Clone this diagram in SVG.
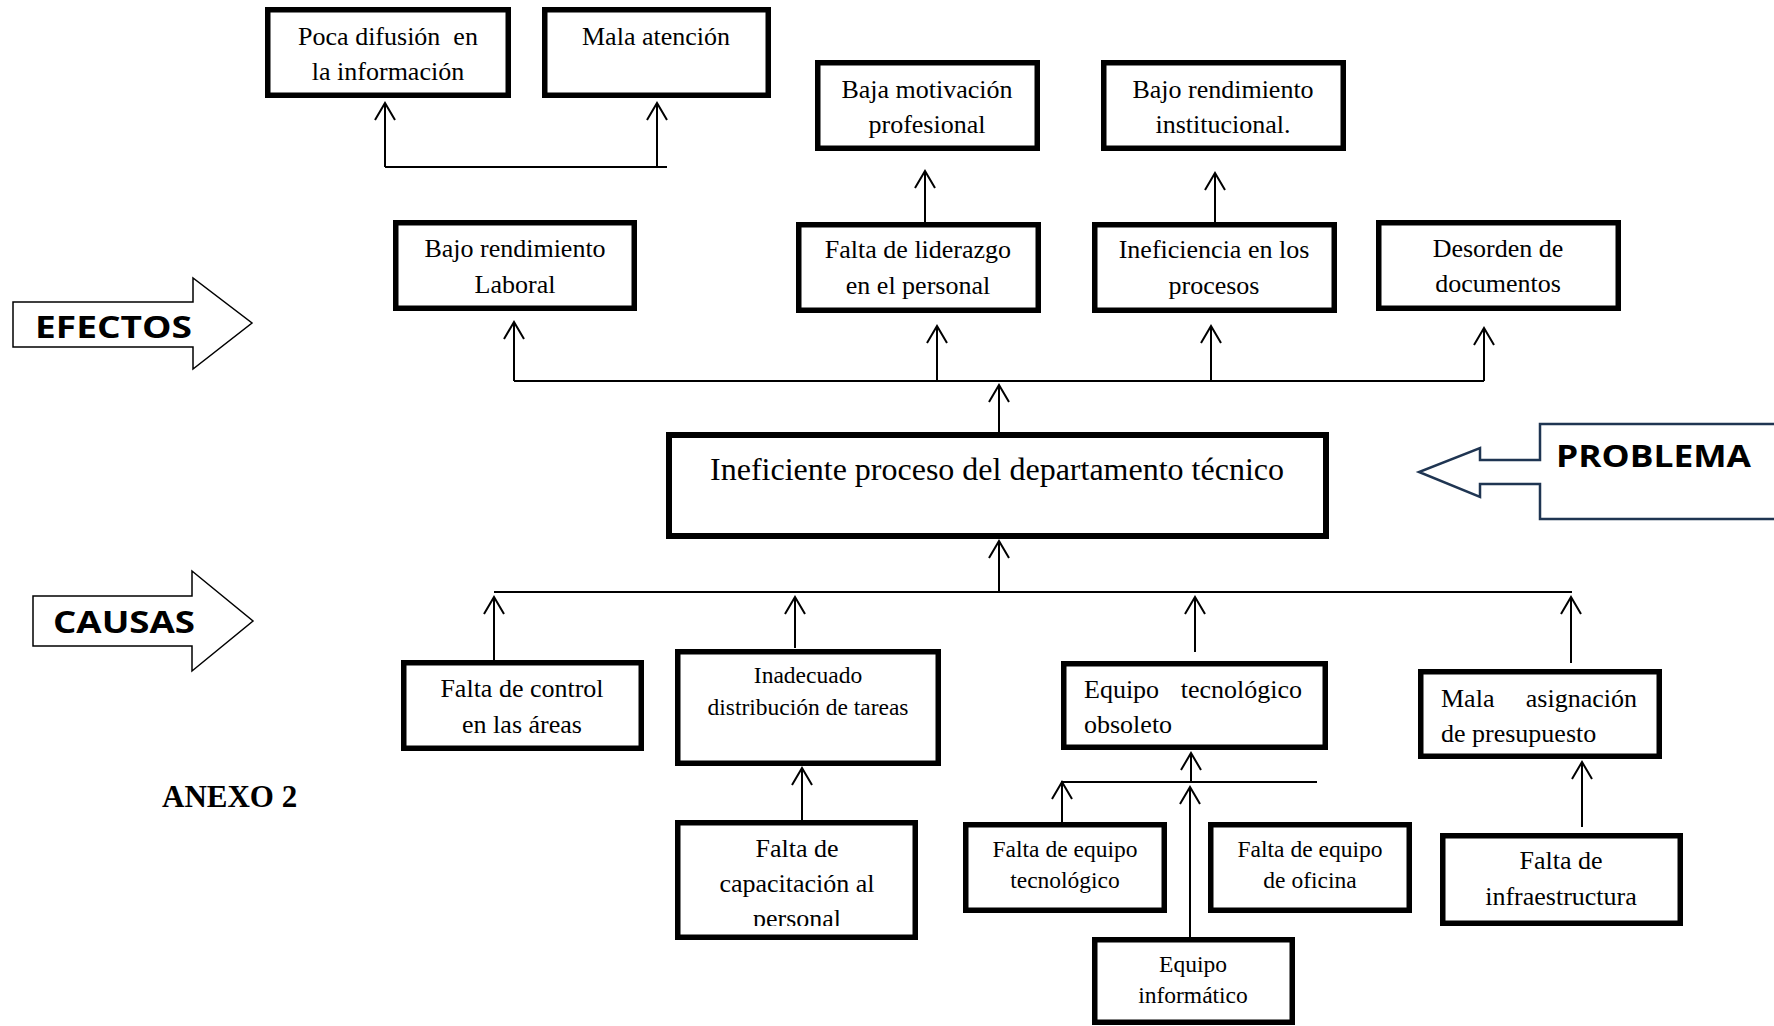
<svg xmlns="http://www.w3.org/2000/svg" width="1774" height="1026" viewBox="0 0 1774 1026">
<style>
.box{fill:#fff;stroke:#000;stroke-width:5.5}
.mainbox{fill:#fff;stroke:#000;stroke-width:6}
.t{font-family:"Liberation Serif","Times New Roman",serif;font-size:26px;fill:#000;text-anchor:middle}
.ts{font-family:"Liberation Serif","Times New Roman",serif;font-size:23.5px;fill:#000;text-anchor:middle}
.tl{font-family:"Liberation Serif","Times New Roman",serif;font-size:26px;fill:#000}
.big{font-family:"Open Sans","DejaVu Sans",sans-serif;font-weight:bold;font-size:30px;fill:#000}
.con line{stroke:#000;stroke-width:2;fill:none}
.bigarrow{fill:#fff;stroke:#000;stroke-width:1.5}
</style>
<defs>
<marker id="ah" markerUnits="userSpaceOnUse" viewBox="-20 -12 24 24" refX="0" refY="0" markerWidth="24" markerHeight="24" orient="auto" overflow="visible">
<path d="M-17,-10 L0,0 L-17,10" fill="none" stroke="#000" stroke-width="2"/>
</marker>
<clipPath id="clipCap"><rect x="678" y="823" width="237" height="103"/></clipPath>
</defs>
<rect x="0" y="0" width="1774" height="1026" fill="#fff"/>

<g id="connectors" class="con">
<line x1="385" y1="167" x2="667" y2="167"/>
<line x1="385" y1="167" x2="385" y2="103" marker-end="url(#ah)"/>
<line x1="657" y1="167" x2="657" y2="103" marker-end="url(#ah)"/>
<line x1="514" y1="381" x2="1484" y2="381"/>
<line x1="514" y1="381" x2="514" y2="322" marker-end="url(#ah)"/>
<line x1="937" y1="381" x2="937" y2="326" marker-end="url(#ah)"/>
<line x1="1211" y1="381" x2="1211" y2="326" marker-end="url(#ah)"/>
<line x1="1484" y1="381" x2="1484" y2="328" marker-end="url(#ah)"/>
<line x1="925" y1="222" x2="925" y2="171" marker-end="url(#ah)"/>
<line x1="1215" y1="227" x2="1215" y2="173" marker-end="url(#ah)"/>
<line x1="999" y1="432" x2="999" y2="385" marker-end="url(#ah)"/>
<line x1="494" y1="592" x2="1572" y2="592"/>
<line x1="999" y1="592" x2="999" y2="541" marker-end="url(#ah)"/>
<line x1="494" y1="666" x2="494" y2="597" marker-end="url(#ah)"/>
<line x1="795" y1="648" x2="795" y2="597" marker-end="url(#ah)"/>
<line x1="1195" y1="652" x2="1195" y2="597" marker-end="url(#ah)"/>
<line x1="1571" y1="663" x2="1571" y2="597" marker-end="url(#ah)"/>
<line x1="802" y1="820" x2="802" y2="768" marker-end="url(#ah)"/>
<line x1="1061" y1="782" x2="1317" y2="782"/>
<line x1="1062" y1="822" x2="1062" y2="782" marker-end="url(#ah)"/>
<line x1="1191" y1="782" x2="1191" y2="753" marker-end="url(#ah)"/>
<line x1="1190" y1="937" x2="1190" y2="787" marker-end="url(#ah)"/>
<line x1="1582" y1="827" x2="1582" y2="762" marker-end="url(#ah)"/>
</g>

<g id="efectos-label">
<polygon class="bigarrow" points="13,302 193,302 193,278 252,323 193,369 193,347 13,347"/>
<text class="big" x="35" y="338" textLength="157" lengthAdjust="spacingAndGlyphs">EFECTOS</text>
</g>
<g id="causas-label">
<polygon class="bigarrow" points="33,596 192,596 192,571 253,621 192,671 192,646 33,646"/>
<text class="big" x="53" y="633" textLength="142" lengthAdjust="spacingAndGlyphs">CAUSAS</text>
</g>
<g id="problema-label">
<path d="M1790,424 L1540,424 L1540,460 L1480,460 L1480,448 L1419,472 L1480,497 L1480,484 L1540,484 L1540,519 L1790,519" fill="#fff" stroke="#1f3552" stroke-width="2.5"/>
<text class="big" x="1556" y="467" textLength="195" lengthAdjust="spacingAndGlyphs">PROBLEMA</text>
</g>

<g id="poca-difusion">
<rect class="box" x="267.75" y="9.75" width="240.5" height="85.5"/>
<text class="t" x="388" y="45" xml:space="preserve">Poca difusión  en</text>
<text class="t" x="388" y="80">la información</text>
</g>
<g id="mala-atencion">
<rect class="box" x="544.75" y="9.75" width="223.5" height="85.5"/>
<text class="t" x="656" y="45">Mala atención</text>
</g>
<g id="bajo-rendimiento-laboral">
<rect class="box" x="395.75" y="222.75" width="238.5" height="85.5"/>
<text class="t" x="515" y="257">Bajo rendimiento</text>
<text class="t" x="515" y="293">Laboral</text>
</g>
<g id="baja-motivacion">
<rect class="box" x="817.75" y="62.75" width="219.5" height="85.5"/>
<text class="t" x="927" y="98">Baja motivación</text>
<text class="t" x="927" y="133">profesional</text>
</g>
<g id="bajo-rendimiento-institucional">
<rect class="box" x="1103.75" y="62.75" width="239.5" height="85.5"/>
<text class="t" x="1223" y="98">Bajo rendimiento</text>
<text class="t" x="1223" y="133">institucional.</text>
</g>
<g id="falta-liderazgo">
<rect class="box" x="798.75" y="224.75" width="239.5" height="85.5"/>
<text class="t" x="918" y="258">Falta de liderazgo</text>
<text class="t" x="918" y="294">en el personal</text>
</g>
<g id="ineficiencia-procesos">
<rect class="box" x="1094.75" y="224.75" width="239.5" height="85.5"/>
<text class="t" x="1214" y="258">Ineficiencia en los</text>
<text class="t" x="1214" y="294">procesos</text>
</g>
<g id="desorden-documentos">
<rect class="box" x="1378.75" y="222.75" width="239.5" height="85.5"/>
<text class="t" x="1498" y="257">Desorden de</text>
<text class="t" x="1498" y="292">documentos</text>
</g>

<g id="problema-central">
<rect class="mainbox" x="669" y="435" width="657" height="101"/>
<text class="t" x="997" y="480" style="font-size:32px">Ineficiente proceso del departamento técnico</text>
</g>

<g id="falta-control">
<rect class="box" x="403.75" y="662.75" width="237.5" height="85.5"/>
<text class="t" x="522" y="697">Falta de control</text>
<text class="t" x="522" y="733">en las áreas</text>
</g>
<g id="inadecuado-distribucion">
<rect class="box" x="677.75" y="651.75" width="260.5" height="111.5"/>
<text class="ts" x="808" y="683">Inadecuado</text>
<text class="ts" x="808" y="715">distribución de tareas</text>
</g>
<g id="equipo-obsoleto">
<rect class="box" x="1063.75" y="663.75" width="261.5" height="83.5"/>
<text class="tl" x="1084" y="698">Equipo</text>
<text class="tl" x="1302" y="698" text-anchor="end">tecnológico</text>
<text class="tl" x="1084" y="733">obsoleto</text>
</g>
<g id="mala-asignacion">
<rect class="box" x="1420.75" y="671.75" width="238.5" height="84.5"/>
<text class="tl" x="1441" y="707">Mala</text>
<text class="tl" x="1637" y="707" text-anchor="end">asignación</text>
<text class="tl" x="1441" y="742">de presupuesto</text>
</g>
<g id="falta-capacitacion">
<rect class="box" x="677.75" y="822.75" width="237.5" height="114.5"/>
<g clip-path="url(#clipCap)">
<text class="t" x="797" y="857">Falta de</text>
<text class="t" x="797" y="892">capacitación al</text>
<text class="t" x="797" y="927">personal</text>
</g>
</g>
<g id="falta-equipo-tecnologico">
<rect class="box" x="965.75" y="824.75" width="198.5" height="85.5"/>
<text class="ts" x="1065" y="857">Falta de equipo</text>
<text class="ts" x="1065" y="888">tecnológico</text>
</g>
<g id="falta-equipo-oficina">
<rect class="box" x="1210.75" y="824.75" width="198.5" height="85.5"/>
<text class="ts" x="1310" y="857">Falta de equipo</text>
<text class="ts" x="1310" y="888">de oficina</text>
</g>
<g id="equipo-informatico">
<rect class="box" x="1094.75" y="939.75" width="197.5" height="82.5"/>
<text class="ts" x="1193" y="972">Equipo</text>
<text class="ts" x="1193" y="1003">informático</text>
</g>
<g id="falta-infraestructura">
<rect class="box" x="1442.75" y="835.75" width="237.5" height="87.5"/>
<text class="t" x="1561" y="869">Falta de</text>
<text class="t" x="1561" y="905">infraestructura</text>
</g>

<text x="162" y="807" style="font-family:'Liberation Serif','Times New Roman',serif;font-weight:bold;font-size:31px;fill:#000">ANEXO 2</text>
</svg>
